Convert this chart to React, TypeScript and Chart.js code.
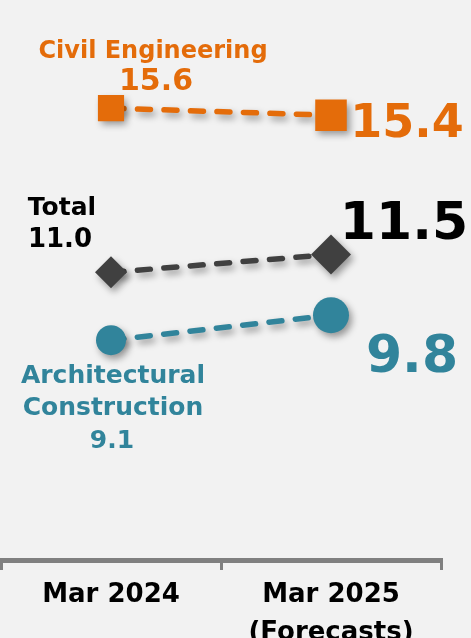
import React, { useEffect, useRef } from 'react';
import { Chart, registerables } from 'chart.js';

Chart.register(...registerables);

// ---- data ----
const categories: (string | string[])[] = ['Mar 2024', ['Mar 2025', '(Forecasts)']];
const civilValues = [15.6, 15.4];
const totalValues = [11.0, 11.5];
const archValues = [9.1, 9.8];
const civilName = ['Civil Engineering'];
const totalName = ['Total'];
const archName = ['Architectural', 'Construction'];

const FONT = '"DejaVu Sans", Verdana, sans-serif';
const ORANGE = '#E46C0A';
const TEAL = '#31849B';
const DARK = '#404040';
const fmt = (v: number) => v.toFixed(1);

const shadowPlugin = {
  id: 'shadowPlugin',
  beforeDatasetsDraw(chart: any) {
    const c = chart.ctx;
    c.save();
    c.shadowColor = 'rgba(0,0,0,0.38)';
    c.shadowBlur = 7;
    c.shadowOffsetX = 3;
    c.shadowOffsetY = 4;
  },
  afterDatasetsDraw(chart: any) {
    chart.ctx.restore();
  },
};

function drawText(ctx: CanvasRenderingContext2D, s: string, x: number, y: number, size: number, color: string) {
  ctx.font = `bold ${size}px ${FONT}`;
  ctx.fillStyle = color;
  ctx.textAlign = 'center';
  ctx.textBaseline = 'alphabetic';
  ctx.fillText(s, x, y);
}

const labelPlugin = {
  id: 'labelPlugin',
  afterDraw(chart: any) {
    const ctx = chart.ctx;
    const xs = chart.scales.x;
    const ys = chart.scales.y;
    const x0 = xs.getPixelForValue(0);
    const x1 = xs.getPixelForValue(1);
    ctx.save();
    // Civil Engineering
    let y = ys.getPixelForValue(civilValues[0]);
    drawText(ctx, civilName[0], x0 + 42, y - 50, 24, ORANGE);
    drawText(ctx, fmt(civilValues[0]), x0 + 45, y - 18, 30, ORANGE);
    y = ys.getPixelForValue(civilValues[1]);
    drawText(ctx, fmt(civilValues[1]), x1 + 76, y + 22, 46, ORANGE);
    // Total
    y = ys.getPixelForValue(totalValues[0]);
    drawText(ctx, totalName[0], x0 - 49, y - 57, 25, '#000');
    drawText(ctx, fmt(totalValues[0]), x0 - 51, y - 25, 26, '#000');
    y = ys.getPixelForValue(totalValues[1]);
    drawText(ctx, fmt(totalValues[1]), x1 + 73, y - 15, 52, '#000');
    // Architectural Construction
    y = ys.getPixelForValue(archValues[0]);
    drawText(ctx, archName[0], x0 + 2, y + 43, 25, TEAL);
    drawText(ctx, archName[1], x0 + 2, y + 75, 25, TEAL);
    drawText(ctx, fmt(archValues[0]), x0 + 1, y + 108, 25, TEAL);
    y = ys.getPixelForValue(archValues[1]);
    drawText(ctx, fmt(archValues[1]), x1 + 81, y + 57, 52, TEAL);
    ctx.restore();
  },
};

export default function App() {
  const ref = useRef<HTMLCanvasElement | null>(null);
  useEffect(() => {
    if (!ref.current) return;
    const line = {
      borderWidth: 5.5,
      borderDash: [13, 13.5],
      borderCapStyle: 'round' as const,
      pointBorderWidth: 0,
      fill: false,
      tension: 0,
    };
    const chart = new Chart(ref.current, {
      type: 'line',
      data: {
        labels: categories as any,
        datasets: [
          {
            label: civilName[0],
            data: civilValues,
            borderColor: ORANGE,
            backgroundColor: ORANGE,
            pointBackgroundColor: ORANGE,
            pointStyle: 'rect',
            pointRadius: [18.5, 22.3],
            ...line,
          },
          {
            label: totalName[0],
            data: totalValues,
            borderColor: DARK,
            backgroundColor: DARK,
            pointBackgroundColor: DARK,
            pointStyle: 'rectRot',
            pointRadius: [16, 20],
            ...line,
          },
          {
            label: archName.join(' '),
            data: archValues,
            borderColor: TEAL,
            backgroundColor: TEAL,
            pointBackgroundColor: TEAL,
            pointStyle: 'circle',
            pointRadius: [15, 18],
            ...line,
          },
        ],
      },
      options: {
        responsive: false,
        animation: false,
        events: [],
        layout: { autoPadding: false, padding: { top: 0, left: 1, right: 30, bottom: 0 } },
        plugins: { legend: { display: false }, tooltip: { enabled: false } },
        scales: {
          x: {
            offset: true,
            grid: {
              display: true,
              drawOnChartArea: false,
              drawTicks: true,
              tickLength: 10,
              color: '#808080',
              lineWidth: 3,
              offset: true,
            },
            border: { display: true, color: '#808080', width: 5 },
            ticks: {
              color: '#000',
              font: { family: FONT, size: 26, weight: 'bold', lineHeight: 1.48 },
              padding: 6,
              maxRotation: 0,
              autoSkip: false,
            },
            afterFit: (s: any) => {
              s.height = 78;
            },
          },
          y: { display: false, min: 2.94, max: 18.63 },
        },
      },
      plugins: [shadowPlugin, labelPlugin],
    } as any);
    return () => chart.destroy();
  }, []);
  return (
    <div style={{ position: 'absolute', left: 0, top: 0, width: 471, height: 638, background: '#f2f2f2' }}>
      <canvas ref={ref} width={471} height={638} style={{ display: 'block' }} />
    </div>
  );
}
